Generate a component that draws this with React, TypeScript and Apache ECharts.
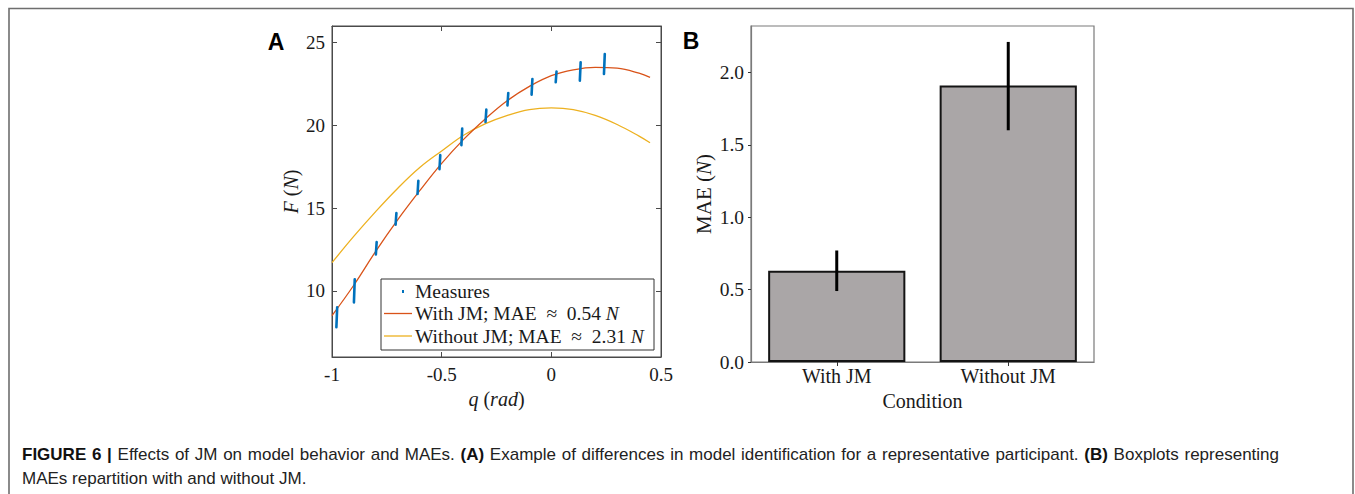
import React, { useEffect, useRef } from "react";
import * as echarts from "echarts";

// Panel A: model curves
const qGrid = [-1, -0.9, -0.8, -0.7, -0.6, -0.5, -0.4, -0.3, -0.2, -0.1, 0, 0.1, 0.2, 0.3, 0.4, 0.45];
const withJM = [8.5, 10.35, 12.4, 14.3, 16.05, 17.7, 19.15, 20.4, 21.5, 22.35, 23.0, 23.35, 23.5, 23.45, 23.15, 22.9];
const withoutJM = [11.7, 13.3, 14.8, 16.2, 17.45, 18.45, 19.4, 20.1, 20.6, 20.95, 21.05, 20.95, 20.6, 20.05, 19.35, 18.95];

// Panel A: measures (vertical spread at each angle)
const measQ = [-0.98, -0.9, -0.8, -0.71, -0.61, -0.51, -0.41, -0.3, -0.2, -0.09, 0.02, 0.13, 0.24];
const measLo = [7.8, 9.3, 12.2, 14.0, 15.85, 17.35, 18.8, 20.2, 21.2, 21.85, 22.6, 22.7, 23.1];
const measHi = [9.0, 10.7, 12.95, 14.7, 16.65, 18.2, 19.8, 20.95, 21.95, 22.8, 23.25, 23.8, 24.3];

const aYTicks = [10, 15, 20, 25];

// Panel B
const conditions = ["With JM", "Without JM"];
const maeMean = [0.63, 1.91];
const maeLow = [0.49, 1.6];
const maeHigh = [0.77, 2.21];
const bYTicks = [0, 0.5, 1, 1.5, 2];

// Caption
const captionLine1 = "FIGURE 6 | Effects of JM on model behavior and MAEs. (A) Example of differences in model identification for a representative participant. (B) Boxplots representing";
const captionBold = ["FIGURE", "6", "|", "(A)", "(B)"];
const captionLine2 = "MAEs repartition with and without JM.";

const SERIF = "'Liberation Serif', 'Times New Roman', serif";
const SANS = "'Liberation Sans', Arial, sans-serif";
const CAP_SIZE = 17;

function captionGraphics(): any[] {
  const canvas = document.createElement("canvas");
  const ctx = canvas.getContext("2d") as CanvasRenderingContext2D;
  const words = captionLine1.split(" ");
  const widths = words.map((w) => {
    const bold = captionBold.indexOf(w) >= 0;
    ctx.font = `${bold ? "bold " : ""}${CAP_SIZE}px 'Liberation Sans', Arial, sans-serif`;
    return ctx.measureText(w).width;
  });
  const x0 = 22;
  const x1 = 1279;
  const total = widths.reduce((a, b) => a + b, 0);
  const gap = (x1 - x0 - total) / (words.length - 1);
  const out: any[] = [];
  let x = x0;
  words.forEach((w, i) => {
    const bold = captionBold.indexOf(w) >= 0;
    out.push({
      type: "text", z: 200, x, y: 454,
      style: { text: w, fontFamily: SANS, fontSize: CAP_SIZE, fontWeight: bold ? "bold" : "normal", fill: bold ? "#111" : "#222", verticalAlign: "middle" },
    });
    x += widths[i] + gap;
  });
  out.push({
    type: "text", z: 200, x: x0, y: 478,
    style: { text: captionLine2, fontFamily: SANS, fontSize: CAP_SIZE, fill: "#222", verticalAlign: "middle" },
  });
  return out;
}

export default function App() {
  const ref = useRef<HTMLDivElement>(null);
  useEffect(() => {
    if (!ref.current) return;
    const chart = echarts.init(ref.current, undefined, { renderer: "svg" });
    const axisColA = "#4a4a4a";
    const axisColB = "#7a7a7a";
    const LEG = 19.5;
    const legRich = { i: { fontStyle: "italic", fontFamily: SERIF, fontSize: LEG, fill: "#1a1a1a" } };
    const option: any = {
      animation: false,
      backgroundColor: "#ffffff",
      grid: [
        { left: 332, top: 26, width: 329, height: 331, show: true, borderColor: axisColA, borderWidth: 1, backgroundColor: "transparent" },
        { left: 751, top: 26, width: 343, height: 336, show: true, borderColor: axisColB, borderWidth: 1.2, backgroundColor: "transparent" },
      ],
      xAxis: [
        {
          gridIndex: 0, type: "value", min: -1, max: 0.5, interval: 0.5, position: "bottom",
          axisLine: { show: true, onZero: false, lineStyle: { color: axisColA, width: 1 } },
          axisTick: { show: true, inside: true, length: 5, lineStyle: { color: axisColA } },
          splitLine: { show: false },
          axisLabel: { fontFamily: SERIF, fontSize: 19, color: "#1a1a1a", margin: 8 },
          name: "{i|q} ({i|rad})", nameLocation: "middle", nameGap: 30,
          nameTextStyle: { fontFamily: SERIF, fontSize: 20, color: "#1a1a1a", rich: { i: { fontStyle: "italic", fontFamily: SERIF, fontSize: 20, color: "#1a1a1a" } } },
        },
        {
          gridIndex: 0, type: "value", min: -1, max: 0.5, interval: 0.5, position: "top",
          axisLine: { show: true, onZero: false, lineStyle: { color: axisColA, width: 1 } },
          axisTick: { show: true, inside: true, length: 5, lineStyle: { color: axisColA } },
          splitLine: { show: false }, axisLabel: { show: false },
        },
        {
          gridIndex: 1, type: "category", data: conditions, position: "bottom",
          axisLine: { show: true, lineStyle: { color: axisColB, width: 1.2 } },
          axisTick: { show: true, inside: false, length: 4, alignWithLabel: true, lineStyle: { color: "#333" } },
          axisLabel: { fontFamily: SERIF, fontSize: 20, color: "#1a1a1a", margin: 4 },
          name: "Condition", nameLocation: "middle", nameGap: 25,
          nameTextStyle: { fontFamily: SERIF, fontSize: 20, color: "#1a1a1a" },
        },
      ],
      yAxis: [
        {
          gridIndex: 0, type: "value", min: 6, max: 26, position: "left",
          axisLine: { show: true, onZero: false, lineStyle: { color: axisColA, width: 1 } },
          axisTick: { show: true, inside: true, length: 5, customValues: aYTicks, lineStyle: { color: axisColA } },
          splitLine: { show: false },
          axisLabel: { customValues: aYTicks, fontFamily: SERIF, fontSize: 19, color: "#1a1a1a", margin: 7 },
          name: "{i|F} ({i|N})", nameLocation: "middle", nameGap: 31, nameRotate: 90,
          nameTextStyle: { fontFamily: SERIF, fontSize: 20, color: "#1a1a1a", rich: { i: { fontStyle: "italic", fontFamily: SERIF, fontSize: 20, color: "#1a1a1a" } } },
        },
        {
          gridIndex: 0, type: "value", min: 6, max: 26, position: "right",
          axisLine: { show: true, onZero: false, lineStyle: { color: axisColA, width: 1 } },
          axisTick: { show: true, inside: true, length: 5, customValues: aYTicks, lineStyle: { color: axisColA } },
          splitLine: { show: false }, axisLabel: { show: false },
        },
        {
          gridIndex: 1, type: "value", min: 0, max: 2.32, position: "left",
          axisLine: { show: true, onZero: false, lineStyle: { color: axisColB, width: 1.2 } },
          axisTick: { show: true, inside: false, length: 3, customValues: bYTicks, lineStyle: { color: "#333" } },
          splitLine: { show: false },
          axisLabel: { customValues: bYTicks, formatter: (v: number) => v.toFixed(1), fontFamily: SERIF, fontSize: 19.5, color: "#1a1a1a", margin: 7 },
          name: "MAE ({i|N})", nameLocation: "middle", nameGap: 37, nameRotate: 90,
          nameTextStyle: { fontFamily: SERIF, fontSize: 21, color: "#1a1a1a", rich: { i: { fontStyle: "italic", fontFamily: SERIF, fontSize: 21, color: "#1a1a1a" } } },
        },
      ],
      series: [
        {
          name: "Without JM", type: "line", xAxisIndex: 0, yAxisIndex: 0,
          data: qGrid.map((q, i) => [q, withoutJM[i]]),
          showSymbol: false, smooth: 0.4,
          lineStyle: { color: "#EDB120", width: 1.3 }, itemStyle: { color: "#EDB120" }, z: 2,
        },
        {
          name: "With JM", type: "line", xAxisIndex: 0, yAxisIndex: 0,
          data: qGrid.map((q, i) => [q, withJM[i]]),
          showSymbol: false, smooth: 0.4,
          lineStyle: { color: "#D95319", width: 1.3 }, itemStyle: { color: "#D95319" }, z: 3,
        },
        {
          name: "Measures", type: "custom", xAxisIndex: 0, yAxisIndex: 0,
          data: measQ.map((q, i) => [q, measLo[i], measHi[i]]),
          encode: { x: 0, y: [1, 2] }, z: 4,
          renderItem: (params: any, api: any) => {
            const p1 = api.coord([api.value(0), api.value(1)]);
            const p2 = api.coord([api.value(0), api.value(2)]);
            return {
              type: "line",
              shape: { x1: p1[0], y1: p1[1], x2: p2[0] + 0.8, y2: p2[1] },
              style: { stroke: "#0072BD", lineWidth: 2.6, lineCap: "round" },
            };
          },
        },
        {
          name: "MAE", type: "bar", xAxisIndex: 2, yAxisIndex: 2,
          data: maeMean, barWidth: "80%",
          itemStyle: { color: "#aaa6a7", borderColor: "#141414", borderWidth: 2 },
        },
        {
          name: "Error", type: "custom", xAxisIndex: 2, yAxisIndex: 2,
          data: conditions.map((c, i) => [i, maeLow[i], maeHigh[i]]),
          encode: { x: 0, y: [1, 2] }, z: 5,
          renderItem: (params: any, api: any) => {
            const p1 = api.coord([api.value(0), api.value(1)]);
            const p2 = api.coord([api.value(0), api.value(2)]);
            return {
              type: "line",
              shape: { x1: p1[0], y1: p1[1], x2: p2[0], y2: p2[1] },
              style: { stroke: "#000000", lineWidth: 3 },
            };
          },
        },
      ],
      graphic: [
        { type: "rect", z: 200, shape: { x: 9, y: 8.5, width: 1344, height: 520 }, style: { fill: "none", stroke: "#6e6e6e", lineWidth: 1.6 } },
        { type: "text", z: 200, x: 276, y: 42, style: { text: "A", fontFamily: SANS, fontWeight: "bold", fontSize: 23, fill: "#000", align: "center", verticalAlign: "middle" } },
        { type: "text", z: 200, x: 691, y: 41, style: { text: "B", fontFamily: SANS, fontWeight: "bold", fontSize: 23, fill: "#000", align: "center", verticalAlign: "middle" } },
        {
          type: "group", z: 200,
          children: [
            { type: "rect", z: 200, shape: { x: 381, y: 279, width: 273, height: 71 }, style: { fill: "#ffffff", stroke: "#333333", lineWidth: 1 } },
            { type: "rect", z: 201, shape: { x: 402, y: 290, width: 2, height: 3 }, style: { fill: "#0072BD" } },
            { type: "line", z: 201, shape: { x1: 384, y1: 313.5, x2: 412, y2: 313.5 }, style: { stroke: "#D95319", lineWidth: 1.3 } },
            { type: "line", z: 201, shape: { x1: 384, y1: 336, x2: 412, y2: 336 }, style: { stroke: "#EDB120", lineWidth: 1.3 } },
            { type: "text", z: 201, x: 415, y: 291, style: { text: "Measures", fontFamily: SERIF, fontSize: LEG, fill: "#1a1a1a", verticalAlign: "middle" } },
            { type: "text", z: 201, x: 415, y: 313.5, style: { text: "With JM; MAE\u2002\u2248\u20020.54 {i|N}", fontFamily: SERIF, fontSize: LEG, fill: "#1a1a1a", verticalAlign: "middle", rich: legRich } },
            { type: "text", z: 201, x: 415, y: 336, style: { text: "Without JM; MAE\u2002\u2248\u20022.31 {i|N}", fontFamily: SERIF, fontSize: LEG, fill: "#1a1a1a", verticalAlign: "middle", rich: legRich } },
          ],
        },
        ...captionGraphics(),
      ],
    };
    chart.setOption(option);
    return () => chart.dispose();
  }, []);
  return <div ref={ref} style={{ position: "fixed", left: 0, top: 0, width: 1355, height: 494, background: "#fff" }} />;
}
